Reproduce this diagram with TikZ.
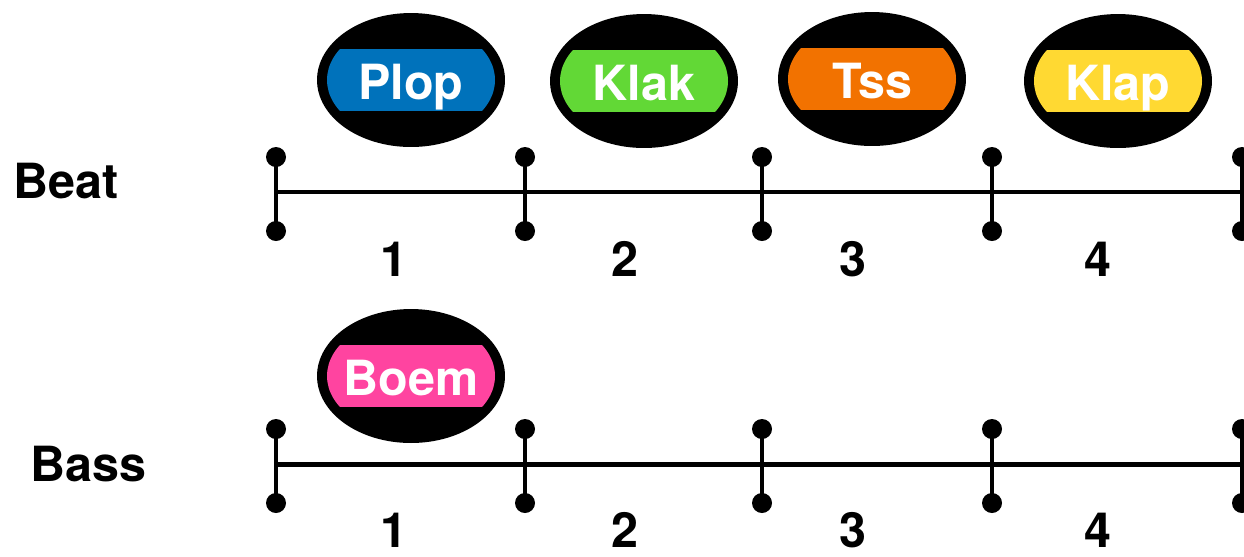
\documentclass[tikz,border=0pt]{standalone}
\usepackage{fontspec}
\setmainfont{TeX Gyre Heros}
\usetikzlibrary{shapes.geometric}
\definecolor{plopc}{RGB}{0,114,187}
\definecolor{klakc}{RGB}{98,216,54}
\definecolor{tssc}{RGB}{242,114,0}
\definecolor{klapc}{RGB}{255,217,50}
\definecolor{boemc}{RGB}{255,68,160}
\begin{document}
\begin{tikzpicture}[x=0.02cm,y=-0.02cm,
  lbl/.style={font=\fontsize{27.6}{32}\selectfont\bfseries, inner sep=0pt},
  pill/.style={ellipse, fill=black, minimum width=3.76cm, minimum height=2.68cm, inner sep=0pt},
  axis/.style={line width=2.83pt, black},
  tickdot/.style={fill=black}]
\useasboundingbox (0,0) rectangle (1244,556);

% sound pills
\foreach \n/\x/\y/\c/\t in {plop/411/80/plopc/Plop, klak/644/81/klakc/Klak, tss/872/79/tssc/Tss, klap/1118/81/klapc/Klap, boem/411/376/boemc/Boem}{
  \node[pill] (\n) at (\x,\y) {};
  \begin{scope}
    \clip ({\x-100},{\y-30.5}) rectangle ({\x+100},{\y+30.5});
    \fill[\c] (\n.center) ellipse [x radius=84, y radius=58];
  \end{scope}
  \node[lbl, text=white, anchor=base] (\n-t) at (\x,{\y+19}) {\t};
}

% row labels
\node[lbl, anchor=base west] (beat) at (13,198) {Beat};
\node[lbl, anchor=base west] (bass) at (30,481) {Bass};

% timelines
\foreach \r/\ly/\ny in {b/192/276, s/464/547}{
  \coordinate (\r-start) at (276,\ly);
  \coordinate (\r-end) at (1250,\ly);
  \draw[axis] (\r-start) -- (\r-end);
  \foreach \i/\tx in {0/276, 1/525, 2/762, 3/992, 4/1242}{
    \coordinate (\r-top\i) at (\tx,{\ly-35});
    \coordinate (\r-bot\i) at (\tx,{\ly+39});
    \draw[axis] (\r-top\i) -- (\r-bot\i);
    \fill[tickdot] (\r-top\i) circle [radius=10];
    \fill[tickdot] (\r-bot\i) circle [radius=10];
  }
  \foreach \i/\nx in {1/394, 2/625, 3/853, 4/1098}{
    \node[lbl, anchor=base] (\r-num\i) at (\nx,\ny) {\i};
  }
}
\end{tikzpicture}
\end{document}
